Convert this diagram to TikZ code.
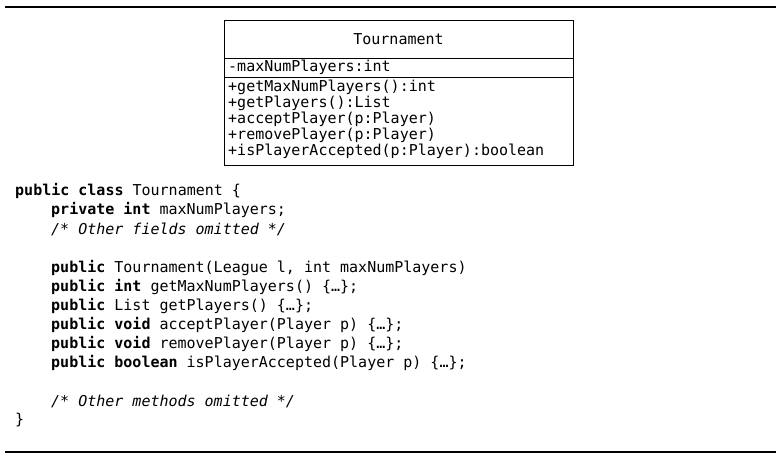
\documentclass[tikz,border=0pt]{standalone}
\usepackage{fontspec}
\setmonofont{DejaVu Sans Mono}
\usepackage{tikz}
\usetikzlibrary{positioning}
\tikzstyle{rule}=[draw,line width=2pt]
\tikzstyle{umlbox}=[draw,line width=0.9pt,minimum width=349pt,minimum height=145pt,inner sep=0pt]
\tikzstyle{uml}=[anchor=west,inner sep=0pt,font=\ttfamily\fontsize{15}{16}\selectfont]
\tikzstyle{code}=[anchor=west,inner sep=0pt,font=\ttfamily\fontsize{15}{16}\selectfont]
\newcommand{\kw}[1]{\textbf{#1}}

\begin{document}
\begin{tikzpicture}[x=1pt,y=1pt]
          \useasboundingbox (0,0) rectangle (783,-461);
          % rules
          \coordinate (ta) at (5,-7);
          \coordinate (tb) at (776,-7);
          \coordinate (ba) at (5,-452);
          \coordinate (bb) at (776,-452);
          \draw[rule] (ta) -- (tb);
          \draw[rule] (ba) -- (bb);
          % class box
          \node[umlbox] (cls) at (398.5,-92.5) {};
          \coordinate (s1) at (224,-58);
          \coordinate (s2) at (224,-77);
          \draw[line width=0.9pt] (s1) -- (s1 -| cls.east);
          \draw[line width=0.9pt] (s2) -- (s2 -| cls.east);
          \node[uml,anchor=center] (name) at (398.5,-39) {Tournament};
          \node[uml] (attr) at (228,-67.5) {-maxNumPlayers:int};
          \node[uml] (m1) at (228,-87.5) {+getMaxNumPlayers():int};
          \node[uml] (m2) at (228,-103.5) {+getPlayers():List};
          \node[uml] (m3) at (228,-119.5) {+acceptPlayer(p:Player)};
          \node[uml] (m4) at (228,-135.5) {+removePlayer(p:Player)};
          \node[uml] (m5) at (228,-151.5) {+isPlayerAccepted(p:Player):boolean};
          % source code
          \node[code] (c1) at (15,-191) {\kw{public class} Tournament \{};
          \node[code] (c2) at (51,-210) {\kw{private int} maxNumPlayers;};
          \node[code] (c3) at (51,-229) {\textit{/* Other fields omitted */}};
          \node[code] (c4) at (51,-268) {\kw{public} Tournament(League l, int maxNumPlayers)};
          \node[code] (c5) at (51,-287) {\kw{public int} getMaxNumPlayers() \{…\};};
          \node[code] (c6) at (51,-306) {\kw{public} List getPlayers() \{…\};};
          \node[code] (c7) at (51,-325) {\kw{public void} acceptPlayer(Player p) \{…\};};
          \node[code] (c8) at (51,-344) {\kw{public void} removePlayer(Player p) \{…\};};
          \node[code] (c9) at (51,-363) {\kw{public boolean} isPlayerAccepted(Player p) \{…\};};
          \node[code] (c10) at (51,-401) {\textit{/* Other methods omitted */}};
          \node[code] (c11) at (15,-420) {\}};
        \end{tikzpicture}
\end{document}
